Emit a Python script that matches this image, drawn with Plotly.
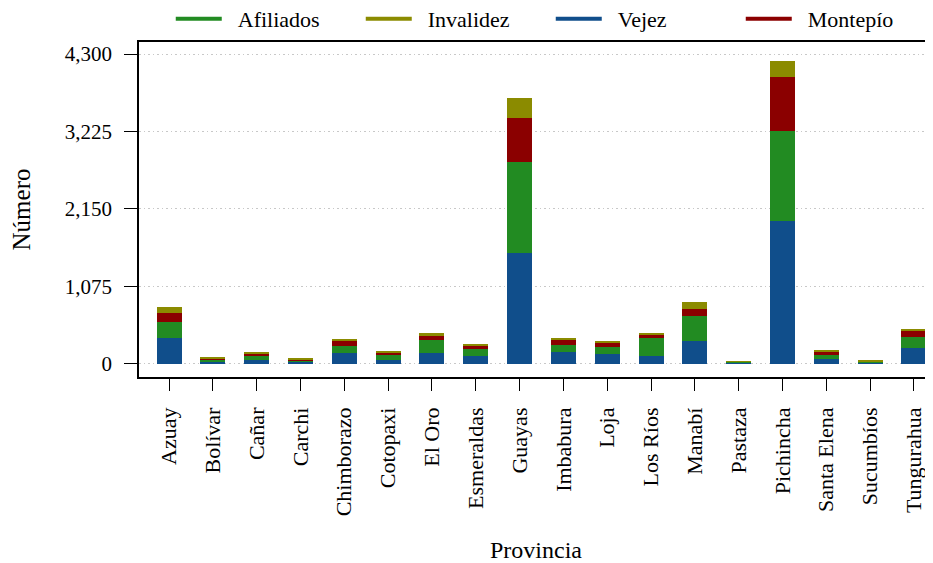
import plotly.graph_objects as go

# Datos por provincia (lectura aproximada del gráfico)
provincias = ['Azuay', 'Bolívar', 'Cañar', 'Carchi', 'Chimborazo', 'Cotopaxi',
              'El Oro', 'Esmeraldas', 'Guayas', 'Imbabura', 'Loja', 'Los Ríos',
              'Manabí', 'Pastaza', 'Pichincha', 'Santa Elena', 'Sucumbíos', 'Tungurahua']

vejez = [356, 28, 56, 23, 148, 46, 144, 111, 1530, 167, 134, 102, 319, 12, 1975, 69, 4, 213]
afiliados = [218, 23, 60, 19, 93, 70, 185, 93, 1265, 92, 102, 259, 338, 14, 1250, 47, 28, 162]
montepio = [130, 18, 23, 18, 83, 37, 51, 41, 615, 79, 60, 37, 107, 3, 755, 46, 2, 74]
invalidez = [78, 12, 14, 9, 23, 9, 41, 14, 280, 18, 14, 23, 88, 4, 230, 14, 8, 28]

y_ticks = [0, 1075, 2150, 3225, 4300]

COL_AFI = '#228B22'
COL_INV = '#8B8B00'
COL_VEJ = '#104E8B'
COL_MON = '#8B0000'

FONT = 'Liberation Serif'

fig = go.Figure()

# barras apiladas: Vejez abajo, luego Afiliados, Montepío, Invalidez
for nombre, valores, color in [('Vejez', vejez, COL_VEJ),
                               ('Afiliados', afiliados, COL_AFI),
                               ('Montepío', montepio, COL_MON),
                               ('Invalidez', invalidez, COL_INV)]:
    fig.add_trace(go.Bar(
        x=provincias, y=valores, name=nombre, showlegend=False,
        marker=dict(color=color, line=dict(width=0)),
    ))

# leyenda con líneas (trazas vacías solo para la leyenda)
for nombre, color in [('Afiliados', COL_AFI), ('Invalidez', COL_INV),
                      ('Vejez', COL_VEJ), ('Montepío', COL_MON)]:
    fig.add_trace(go.Scatter(
        x=[None], y=[None], mode='lines', name='\u2002' + nombre,
        line=dict(color=color, width=4),
    ))

# la página tiene un margen de 8px, se compensa en el tamaño
fig.update_layout(
    barmode='stack',
    bargap=0.43,
    width=925, height=555,
    margin=dict(l=131, r=0, t=34, b=186, autoexpand=False),
    plot_bgcolor='white',
    paper_bgcolor='white',
    font=dict(family=FONT, size=21, color='black'),
    legend=dict(
        orientation='h', x=0.040, xanchor='left', y=1.0687, yanchor='middle',
        font=dict(size=22), traceorder='normal', bgcolor='rgba(0,0,0,0)',
        entrywidth=129, entrywidthmode='pixels', itemwidth=46,
    ),
    xaxis=dict(
        range=[-0.685, 17.434], automargin=False,
        showline=True, linecolor='black', linewidth=1.5, mirror=True,
        ticks='outside', ticklen=12, tickcolor='black', tickwidth=1.2,
        ticklabelstandoff=8,
        tickangle=-90, showgrid=False,
        title=dict(text='Provincia', standoff=36, font=dict(size=24)),
        tickfont=dict(size=22),
    ),
    yaxis=dict(
        range=[-187, 4467], automargin=False,
        tickvals=y_ticks, tickformat=',',
        showline=True, linecolor='black', linewidth=1.5,
        ticks='outside', ticklen=13, tickcolor='black', tickwidth=1.2,
        ticklabelstandoff=8,
        showgrid=True, gridcolor='#c8c8c8', griddash='1.5px,3px', gridwidth=1,
        zeroline=False,
        title=dict(text='Número', standoff=28),
        tickfont=dict(size=21),
    ),
)

fig.write_html('out.html')
